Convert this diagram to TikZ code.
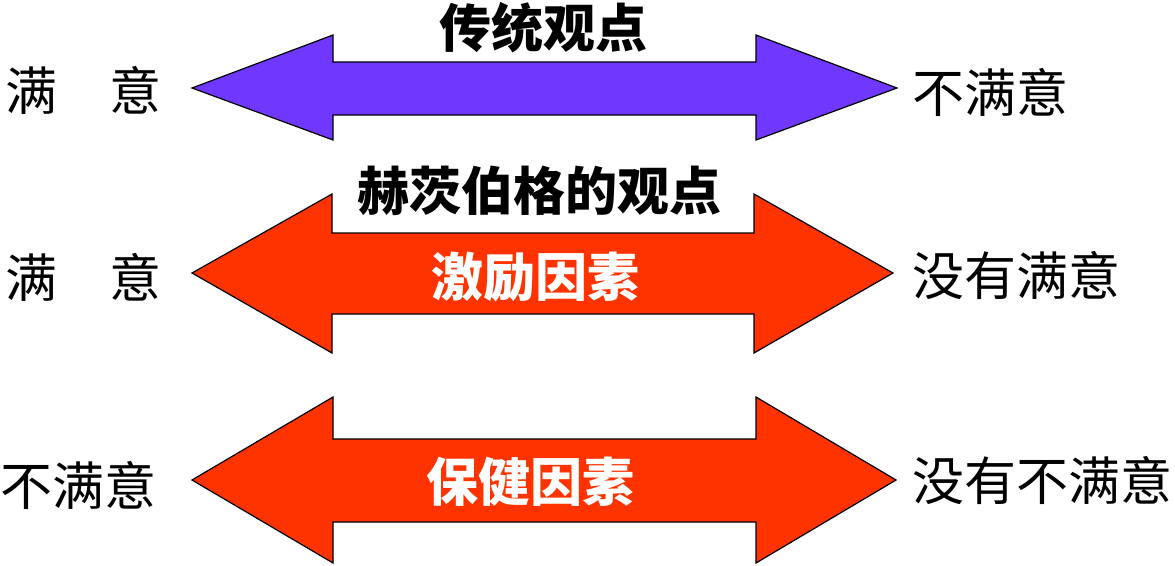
\documentclass[tikz,border=0pt]{standalone}
\usepackage{fontspec}
\newfontfamily\cjk{Noto Sans CJK SC}
\definecolor{traditional}{RGB}{112,56,255}
\definecolor{herzberg}{RGB}{255,51,0}
\begin{document}
\begin{tikzpicture}[x=1pt, y=-1pt]
    % Stili
    \tikzstyle{sidetext}=[font=\cjk\fontsize{52}{60}\selectfont, text=black, inner sep=0pt]
    \tikzstyle{heading}=[font=\cjk\bfseries\fontsize{52}{60}\selectfont, text=black, inner sep=0pt]
    \tikzstyle{factor}=[heading, text=white]
    \tikzstyle{bigarrow}=[draw=black, line width=1.2pt, line join=miter]
    \useasboundingbox (0,0) rectangle (1175,565);
    % Visione tradizionale
    \draw[bigarrow, fill=traditional] (192,88) -- (333,35) -- (333,62) -- (756,62) -- (756,35) -- (897,88) -- (756,140) -- (756,115) -- (333,115) -- (333,140) -- cycle;
    \node[heading] (trad) at (543,28) {传统观点};
    \node[sidetext, anchor=west] (tradL) at (5,90) {满　意};
    \node[sidetext, anchor=west] (tradR) at (912,92) {不满意};
    % Visione di Herzberg: fattori motivanti
    \draw[bigarrow, fill=herzberg] (192,273) -- (332,194) -- (332,233) -- (754,233) -- (754,194) -- (893,273) -- (754,353) -- (754,314) -- (332,314) -- (332,353) -- cycle;
    \node[heading] (herz) at (539,191) {赫茨伯格的观点};
    \node[factor] (motiv) at (535,277) {激励因素};
    \node[sidetext, anchor=west] (motivL) at (5,277) {满　意};
    \node[sidetext, anchor=west] (motivR) at (912,276) {没有满意};
    % Fattori igienici
    \draw[bigarrow, fill=herzberg] (192,480) -- (333,397) -- (333,439) -- (756,439) -- (756,397) -- (896,480) -- (756,563) -- (756,522) -- (333,522) -- (333,563) -- cycle;
    \node[factor] (hyg) at (530,482) {保健因素};
    \node[sidetext, anchor=west] (hygL) at (0,485) {不满意};
    \node[sidetext, anchor=west] (hygR) at (912,480) {没有不满意};
\end{tikzpicture}
\end{document}
